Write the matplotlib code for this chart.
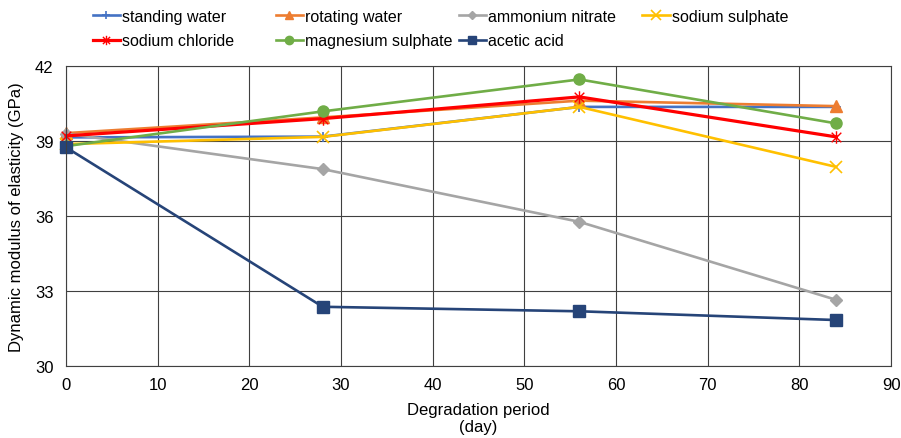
import matplotlib.pyplot as plt
from matplotlib.path import Path

plt.rcParams.update({
    "font.family": ["Liberation Sans", "DejaVu Sans"],
    "font.size": 12,
})

# =========================
# Data
# =========================
days = [0, 28, 56, 84]
standing_water = [39.15, 39.18, 40.37, 40.37]
rotating_water = [39.32, 39.95, 40.62, 40.40]
ammonium_nitrate = [39.30, 37.88, 35.77, 32.65]
sodium_sulphate = [38.88, 39.17, 40.37, 37.97]
sodium_chloride = [39.21, 39.90, 40.77, 39.17]
magnesium_sulphate = [38.80, 40.19, 41.47, 39.71]
acetic_acid = [38.75, 32.37, 32.19, 31.84]

labels = ["standing water", "rotating water", "ammonium nitrate", "sodium sulphate",
          "sodium chloride", "magnesium sulphate", "acetic acid"]

# Excel-like asterisk marker (x with vertical stroke)
star = Path([(-1, -1), (1, 1), (-1, 1), (1, -1), (0, -1.3), (0, 1.3)],
            [Path.MOVETO, Path.LINETO, Path.MOVETO, Path.LINETO, Path.MOVETO, Path.LINETO])

styles = [
    dict(color="#4472C4", marker="+", ms=7, mew=1.2),
    dict(color="#ED7D31", marker="^", ms=8),
    dict(color="#A5A5A5", marker="D", ms=6),
    dict(color="#FFC000", marker="x", ms=9, mew=1.2),
    dict(color="#FF0000", marker=star, ms=9, mew=1.0, mfc="none"),
    dict(color="#70AD47", marker="o", ms=8),
    dict(color="#264478", marker="s", ms=8),
]
series = [standing_water, rotating_water, ammonium_nitrate, sodium_sulphate,
          sodium_chloride, magnesium_sulphate, acetic_acid]

fig = plt.figure(figsize=(9.01, 4.39), dpi=100)
ax = fig.add_axes([0.0733, 0.164, 0.9157, 0.683])

handles = []
for vals, st, lab in zip(series, styles, labels):
    lw = 2.3 if st["color"] == "#FF0000" else 1.9
    h, = ax.plot(days, vals, linewidth=lw, label=lab, clip_on=False, **st)
    handles.append(h)

ax.set_xlim(0, 90)
ax.set_ylim(30, 42)
ax.set_xticks(range(0, 91, 10))
ax.set_yticks(range(30, 43, 3))
ax.grid(True, which="major", color="#404040", linewidth=0.8)
ax.set_axisbelow(True)
for sp in ax.spines.values():
    sp.set_color("#404040")
    sp.set_linewidth(0.8)
ax.tick_params(axis="x", length=0, pad=8)
ax.tick_params(axis="y", length=0, pad=9)

ax.set_xlabel("Degradation period\n(day)", labelpad=7, linespacing=1.15)
ax.set_ylabel("Dynamic modulus of elasticity (GPa)", labelpad=8)

# legend: 4 fixed-width columns on top
col_x = [0.103, 0.306, 0.509, 0.713]
for i, x in enumerate(col_x):
    hs = [handles[i]] + ([handles[i + 4]] if i + 4 < len(handles) else [])
    fig.legend(handles=hs, loc="upper left", bbox_to_anchor=(x, 0.978),
               frameon=False, handlelength=1.7, handletextpad=0.15,
               labelspacing=0.6, borderpad=0, borderaxespad=0, markerscale=0.75,
               fontsize=11.5)

fig.savefig("out.png", dpi=100)
